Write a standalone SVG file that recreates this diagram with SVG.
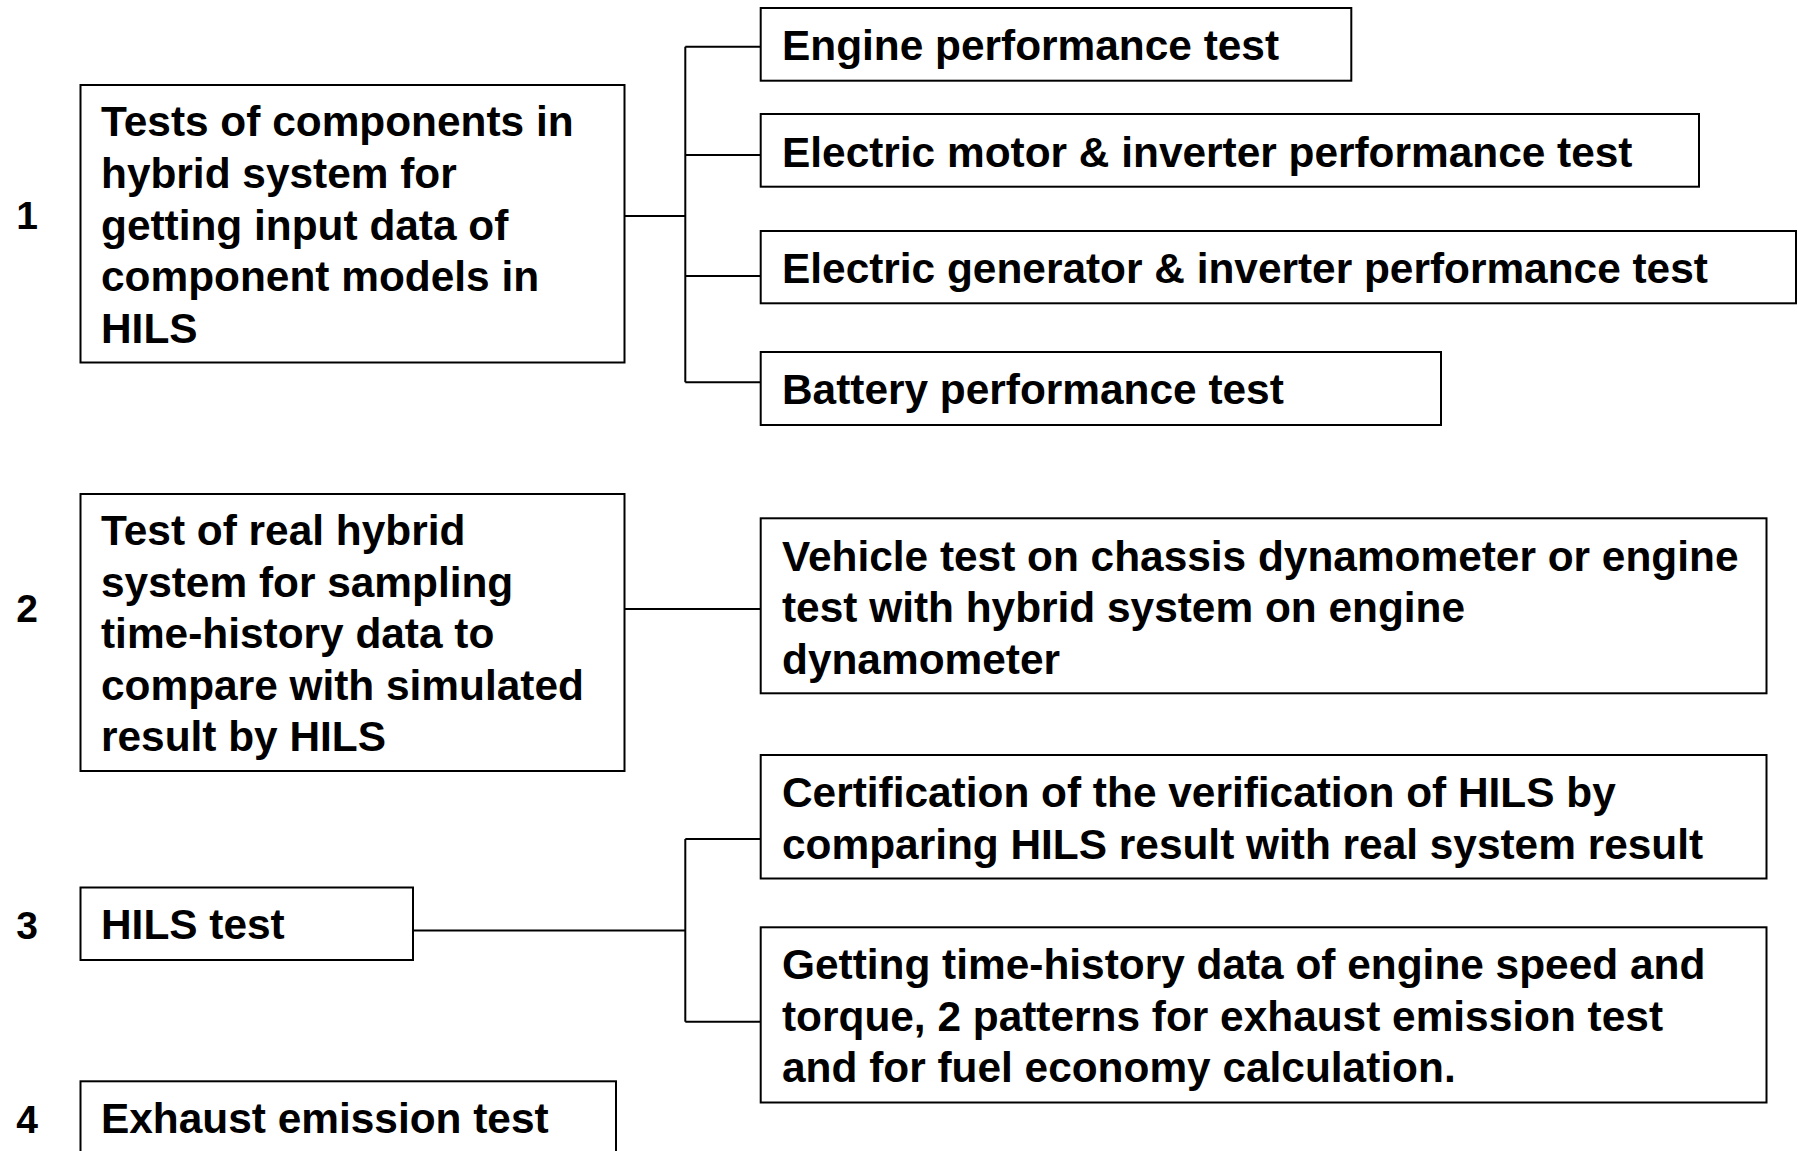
<svg xmlns="http://www.w3.org/2000/svg" width="1798" height="1151" viewBox="0 0 1798 1151">
<style>
.box{fill:#fff;stroke:#000;stroke-width:2}
.t{font-family:"Liberation Sans",Arial,sans-serif;font-weight:bold;font-size:42.4px;fill:#000}
.n{font-family:"Liberation Sans",Arial,sans-serif;font-weight:bold;font-size:39px;fill:#000;text-anchor:middle}
.c{fill:none;stroke:#000;stroke-width:2}
</style>
<rect width="1798" height="1151" fill="#fff"/>
<g id="connectors">
<path class="c" d="M624.5 216H685.3M685.3 46.7V382.3M685.3 46.7H760.7M685.3 155H760.7M685.3 276H760.7M685.3 382.3H760.7"/>
<path class="c" d="M624.5 609H760.7"/>
<path class="c" d="M413 930.5H685.3M685.3 839V1021.7M685.3 839H760.7M685.3 1021.7H760.7"/>
</g>
<g id="label1"><text class="n" x="27" y="228.5">1</text></g>
<g id="label2"><text class="n" x="27" y="621.7">2</text></g>
<g id="label3"><text class="n" x="27" y="939.3">3</text></g>
<g id="label4"><text class="n" x="27" y="1133.3">4</text></g>
<g id="box1">
<rect class="box" x="80.5" y="85" width="544" height="277.5"/>
<text class="t" x="101" y="136">Tests of components in</text>
<text class="t" x="101" y="187.8">hybrid system for</text>
<text class="t" x="101" y="239.6">getting input data of</text>
<text class="t" x="101" y="291.4">component models in</text>
<text class="t" x="101" y="343.2">HILS</text>
</g>
<g id="engine">
<rect class="box" x="760.7" y="8" width="590.6" height="72.7"/>
<text class="t" x="782" y="60">Engine performance test</text>
</g>
<g id="motor">
<rect class="box" x="760.7" y="114" width="938.3" height="72.7"/>
<text class="t" x="782" y="166.5">Electric motor &amp; inverter performance test</text>
</g>
<g id="generator">
<rect class="box" x="760.7" y="231" width="1035.3" height="72.3"/>
<text class="t" x="782" y="283.3">Electric generator &amp; inverter performance test</text>
</g>
<g id="battery">
<rect class="box" x="760.7" y="352" width="680.3" height="73"/>
<text class="t" x="782" y="404">Battery performance test</text>
</g>
<g id="box2">
<rect class="box" x="80.5" y="494" width="544" height="277"/>
<text class="t" x="101" y="545">Test of real hybrid</text>
<text class="t" x="101" y="596.5">system for sampling</text>
<text class="t" x="101" y="648">time-history data to</text>
<text class="t" x="101" y="699.5">compare with simulated</text>
<text class="t" x="101" y="751">result by HILS</text>
</g>
<g id="vehicle">
<rect class="box" x="760.7" y="518.3" width="1005.8" height="175"/>
<text class="t" x="782" y="570.5">Vehicle test on chassis dynamometer or engine</text>
<text class="t" x="782" y="622">test with hybrid system on engine</text>
<text class="t" x="782" y="673.5">dynamometer</text>
</g>
<g id="box3">
<rect class="box" x="80.5" y="887.5" width="332.5" height="72.5"/>
<text class="t" x="101" y="939.3">HILS test</text>
</g>
<g id="certification">
<rect class="box" x="760.7" y="755" width="1005.8" height="123.5"/>
<text class="t" x="782" y="807">Certification of the verification of HILS by</text>
<text class="t" x="782" y="858.5">comparing HILS result with real system result</text>
</g>
<g id="getting">
<rect class="box" x="760.7" y="927.3" width="1005.8" height="175.2"/>
<text class="t" x="782" y="979">Getting time-history data of engine speed and</text>
<text class="t" x="782" y="1030.5">torque, 2 patterns for exhaust emission test</text>
<text class="t" x="782" y="1082">and for fuel economy calculation.</text>
</g>
<g id="box4">
<rect class="box" x="80.5" y="1081.3" width="535.5" height="90"/>
<text class="t" x="101" y="1133.3">Exhaust emission test</text>
</g>
</svg>
